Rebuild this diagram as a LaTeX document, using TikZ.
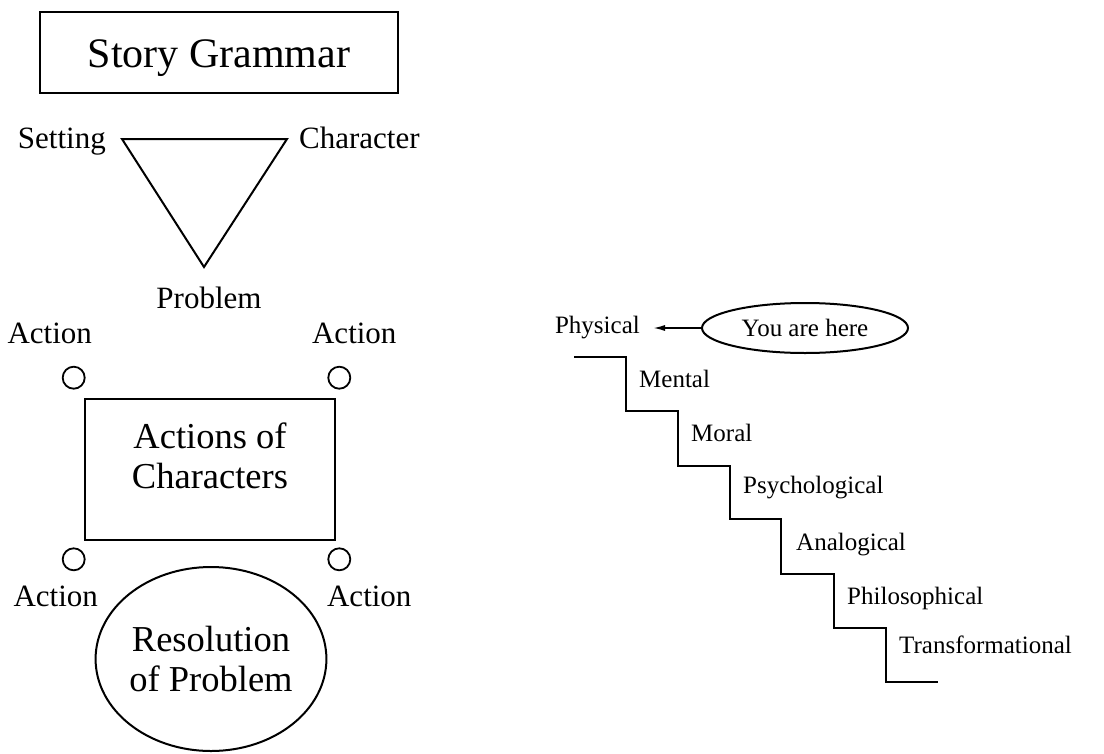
\documentclass[tikz,border=0pt]{standalone}
\usepackage{fontspec}
\setmainfont{Liberation Serif}
\usepackage{tikz}
\usetikzlibrary{positioning,shapes.geometric,arrows.meta}

\begin{document}
\begin{tikzpicture}[x=1pt,y=-1pt,
  big/.style={font=\fontsize{42}{48}\selectfont},
  mid/.style={font=\fontsize{36.5}{40}\selectfont, align=center},
  lab/.style={font=\fontsize{31}{36}\selectfont, inner sep=0pt},
  rung/.style={font=\fontsize{25}{30}\selectfont, inner sep=0pt, anchor=base west},
  action/.style={draw, circle, line width=1.8pt, minimum size=22pt, inner sep=0pt}]
% keep the page as large as the reference
\useasboundingbox (0,0) rectangle (1104,753);

% title box
\node[big, draw, line width=2.6pt, minimum width=358pt, minimum height=81pt,
      text height=29pt, text depth=0pt] (title) at (219,52.5) {Story Grammar};

% the triangle and its corners
\coordinate (tl) at (122,139);
\coordinate (tr) at (287,139);
\coordinate (tb) at (204,267);
\draw[line width=2pt] (tl) -- (tr) -- (tb) -- cycle;
\node[lab, anchor=base east] (setting) at ([xshift=-16pt,yshift=-9pt]tl) {Setting};
\node[lab, anchor=base west] (character) at ([xshift=12pt,yshift=-9pt]tr) {Character};
\node[lab, below=20pt of tb, xshift=5pt] (problem) {Problem};

% actions box with a circle at each corner
\node[draw, line width=2.6pt, minimum width=250pt, minimum height=141pt] (acts) at (210,469.5) {};
\node[mid, yshift=14pt] (actstext) at (acts.center) {Actions of\\Characters};

\node[action] (a1) at ([xshift=-10pt,yshift=20pt]acts.north west) {};
\node[action] (a2) at ([xshift=3pt,yshift=20pt]acts.north east) {};
\node[action] (a3) at ([xshift=-10pt,yshift=-18pt]acts.south west) {};
\node[action] (a4) at ([xshift=3pt,yshift=-18pt]acts.south east) {};

\node[lab, above=22pt of a1, xshift=-24pt] (a1lab) {Action};
\node[lab, above=22pt of a2, xshift=15pt] (a2lab) {Action};
\node[lab, below=15pt of a3, xshift=-18pt] (a3lab) {Action};
\node[lab, below=15pt of a4, xshift=30pt] (a4lab) {Action};

% resolution
\node[mid, draw, ellipse, line width=2pt, minimum width=216pt, minimum height=184pt,
      inner sep=0pt] (resol) at (211,659) {Resolution\\of Problem};

% the stairs
\node[draw, ellipse, line width=2pt, minimum width=206pt, minimum height=50pt, inner sep=0pt,
      font=\fontsize{25}{30}\selectfont] (here) at (805,328) {You are here};
\node[rung, anchor=base east] (physical) at (640,333) {Physical};
\draw[line width=1.6pt, -{Latex[length=12pt,width=6pt]}, shorten >=13pt]
     (here.west) -- (here.west -| physical.east);

\draw[line width=2.2pt] (574,357) -| (626,411) -| (678,466) -| (730,519)
     -| (781,574) -| (834,628) -| (886,682) -- (938,682);

\node[rung] (mental) at (639,387) {Mental};
\node[rung] (moral) at (691,441) {Moral};
\node[rung] (psych) at (743,493) {Psychological};
\node[rung] (analog) at (796,550) {Analogical};
\node[rung] (philo) at (847,604) {Philosophical};
\node[rung] (transf) at (899,653) {Transformational};
\end{tikzpicture}
\end{document}
